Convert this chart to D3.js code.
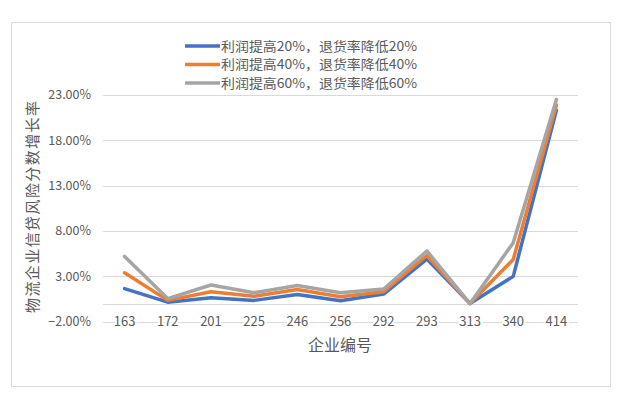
<!DOCTYPE html>
<html><head><meta charset="utf-8">
<script src="https://cdn.jsdelivr.net/npm/d3@7"></script>
<style>
body{margin:0;background:#fff;}
text{font-family:"Noto Sans CJK SC","Noto Sans",sans-serif;fill:#595959;}
</style></head>
<body><svg id="c" width="637" height="404"></svg>
<script>
const categories = ["163","172","201","225","246","256","292","293","313","340","414"];
const seriesNames = ["利润提高20%，退货率降低20%","利润提高40%，退货率降低40%","利润提高60%，退货率降低60%"];
const s20 = [1.65,0.15,0.65,0.35,1.0,0.3,1.05,4.9,0,3.0,21.3];
const s40 = [3.4,0.35,1.3,0.8,1.55,0.75,1.3,5.3,0,4.85,21.9];
const s60 = [5.2,0.55,2.05,1.2,2.0,1.2,1.6,5.8,0,6.7,22.5];
const yTicks = [-2,3,8,13,18,23];
const colors = ["#4472C4","#ED7D31","#A5A5A5"];
const series = [s20,s40,s60];

const svg = d3.select("#c");
svg.append("rect").attr("x",11.5).attr("y",22.5).attr("width",599).attr("height",364)
  .attr("fill","#fff").attr("stroke","#d9d9d9").attr("stroke-width",1);

const x = d3.scalePoint().domain(categories).range([103,578]).padding(0.5);
const y = d3.scaleLinear().domain([-2,23]).range([321.7,95]);

// gridlines
const g = svg.append("g");
g.selectAll("line.grid").data(yTicks).join("line")
  .attr("x1",103).attr("x2",578)
  .attr("y1",d=>Math.round(y(d))+0.5).attr("y2",d=>Math.round(y(d))+0.5)
  .attr("stroke","#d9d9d9").attr("stroke-width",1);
// zero axis line
g.append("line").attr("x1",103).attr("x2",578)
  .attr("y1",Math.round(y(0))+0.5).attr("y2",Math.round(y(0))+0.5)
  .attr("stroke","#d9d9d9").attr("stroke-width",1);

// y tick labels
g.selectAll("text.yt").data(yTicks).join("text")
  .attr("x",91).attr("y",d=>y(d)).attr("dy","0.35em")
  .attr("text-anchor","end").attr("font-size",12.5)
  .text(d=>d3.format(".2f")(d)+"%");

// x labels (at bottom, over -2% line)
g.selectAll("text.xt").data(categories).join("text")
  .attr("x",d=>x(d)).attr("y",y(-2)).attr("dy","0.35em")
  .attr("text-anchor","middle").attr("font-size",13)
  .attr("stroke","#fff").attr("stroke-width",4).attr("paint-order","stroke")
  .text(d=>d);

// lines
const line = d3.line().x((d,i)=>x(categories[i])).y(d=>y(d)).curve(d3.curveLinear);
series.forEach((s,k)=>{
  svg.append("path").datum(s).attr("d",line)
    .attr("fill","none").attr("stroke",colors[k]).attr("stroke-width",3.5)
    .attr("stroke-linejoin","round").attr("stroke-linecap","round");
});

// axis titles
svg.append("text").attr("x",340).attr("y",345).attr("dy","0.35em")
  .attr("text-anchor","middle").attr("font-size",16).text("企业编号");
svg.append("text").attr("transform","translate(33,207) rotate(-90)")
  .attr("text-anchor","middle").attr("dy","0.35em").attr("font-size",15)
  .attr("textLength",212).attr("lengthAdjust","spacing")
  .text("物流企业信贷风险分数增长率");

// legend
const lg = svg.append("g");
const ly = [46,64.5,83];
seriesNames.forEach((n,k)=>{
  lg.append("line").attr("x1",185).attr("x2",220).attr("y1",ly[k]).attr("y2",ly[k])
    .attr("stroke",colors[k]).attr("stroke-width",3.5);
  lg.append("text").attr("x",221).attr("y",ly[k]).attr("dy","0.35em")
    .attr("font-size",13).attr("textLength",196).attr("lengthAdjust","spacingAndGlyphs")
    .text(n);
});
</script></body></html>
